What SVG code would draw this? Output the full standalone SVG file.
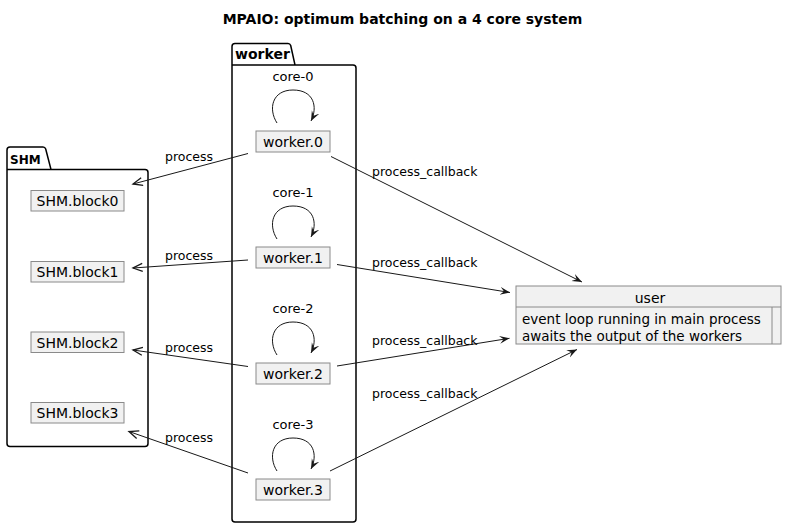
<svg xmlns="http://www.w3.org/2000/svg" width="791" height="529" viewBox="0 0 791 529">
<style>
text{font-family:"DejaVu Sans","Verdana",sans-serif;fill:#000}
.title{font-size:14px;font-weight:bold}
.pkg{fill:none;stroke:#000;stroke-width:1.5}
.pkgt{font-size:14px;font-weight:bold}
.box{fill:#F1F1F1;stroke:#8A8A8A;stroke-width:1}
.bt{font-size:14px;text-anchor:middle}
.core{font-size:13px;text-anchor:middle}
.lbl{font-size:12.5px}
.edge{fill:none;stroke:#181818;stroke-width:1}
.ut{font-size:13.5px}
</style>
<defs>
<marker id="fa" markerUnits="userSpaceOnUse" markerWidth="12" markerHeight="10" refX="10" refY="4" orient="auto">
<path d="M0,0 L10,4 L0,8 L4,4 Z" fill="#181818"/>
</marker>
<marker id="oa" markerUnits="userSpaceOnUse" markerWidth="12" markerHeight="10" refX="10" refY="4.5" orient="auto">
<path d="M0.5,0.5 L10,4.5 L0.5,8.5" fill="none" stroke="#181818" stroke-width="1.3"/>
</marker>
</defs>
<text class="title" x="402.5" y="24" text-anchor="middle">MPAIO: optimum batching on a 4 core system</text>

<g id="pkg-worker">
<path class="pkg" d="M235,43.5 L288,43.5 Q290,43.5 290.7,45.5 L295,65 L353,65 Q356,65 356,68 L356,519 Q356,522 353,522 L235,522 Q232,522 232,519 L232,46.5 Q232,43.5 235,43.5 Z M232,65 L295,65"/>
<text class="pkgt" x="235" y="59">worker</text>
</g>
<g id="pkg-SHM">
<path class="pkg" d="M10,147 L43,147 Q45,147 45.7,149 L51,169.5 L145,169.5 Q148,169.5 148,172.5 L148,443.5 Q148,446.5 145,446.5 L10,446.5 Q7,446.5 7,443.5 L7,150 Q7,147 10,147 Z M7,169.5 L51,169.5"/>
<text class="pkgt" x="10" y="164" style="font-size:12px">SHM</text>
</g>

<g id="SHM.block0"><rect class="box" x="31" y="190.5" width="93" height="20.5"/><text class="bt" x="77.5" y="206">SHM.block0</text></g>
<g id="SHM.block1"><rect class="box" x="31" y="261.5" width="93" height="20.5"/><text class="bt" x="77.5" y="277">SHM.block1</text></g>
<g id="SHM.block2"><rect class="box" x="31" y="332" width="93" height="20.5"/><text class="bt" x="77.5" y="347.5">SHM.block2</text></g>
<g id="SHM.block3"><rect class="box" x="31" y="402.5" width="93" height="20.5"/><text class="bt" x="77.5" y="418">SHM.block3</text></g>

<g id="worker.0"><rect class="box" x="256" y="131" width="74" height="21"/><text class="bt" x="293" y="147">worker.0</text></g>
<g id="worker.1"><rect class="box" x="256" y="247" width="74" height="21"/><text class="bt" x="293" y="263">worker.1</text></g>
<g id="worker.2"><rect class="box" x="256" y="363" width="74" height="21"/><text class="bt" x="293" y="379">worker.2</text></g>
<g id="worker.3"><rect class="box" x="256" y="479" width="74" height="21"/><text class="bt" x="293" y="495">worker.3</text></g>

<g id="user">
<rect class="box" x="516" y="286" width="265" height="58"/>
<line x1="516" y1="307" x2="781" y2="307" stroke="#8A8A8A"/>
<line x1="772" y1="307" x2="772" y2="344" stroke="#8A8A8A"/>
<text class="bt" x="650" y="303">user</text>
<text class="ut" x="522" y="324">event loop running in main process</text>
<text class="ut" x="522" y="341">awaits the output of the workers</text>
</g>

<g id="connectors">
<path class="edge" marker-end="url(#fa)" d="M277,123 C268,109 272,90 293,90 C314,90 318,107 311,121"/>
<path class="edge" marker-end="url(#fa)" d="M277,239 C268,225 272,206 293,206 C314,206 318,223 311,237"/>
<path class="edge" marker-end="url(#fa)" d="M277,355 C268,341 272,322 293,322 C314,322 318,339 311,353"/>
<path class="edge" marker-end="url(#fa)" d="M277,471 C268,457 272,438 293,438 C314,438 318,455 311,469"/>
<text class="core" x="293" y="81">core-0</text>
<text class="core" x="293" y="197">core-1</text>
<text class="core" x="293" y="313">core-2</text>
<text class="core" x="293" y="429">core-3</text>

<path class="edge" marker-end="url(#oa)" d="M248,153.5 L133,184"/>
<path class="edge" marker-end="url(#oa)" d="M248,260 L133,268"/>
<path class="edge" marker-end="url(#oa)" d="M248,366.5 L133,350"/>
<path class="edge" marker-end="url(#oa)" d="M248,473 L129,431.5"/>
<text class="lbl" x="165" y="161">process</text>
<text class="lbl" x="165" y="260">process</text>
<text class="lbl" x="165" y="352">process</text>
<text class="lbl" x="165" y="442">process</text>

<path class="edge" marker-end="url(#fa)" d="M331,156.5 L582,282"/>
<path class="edge" marker-end="url(#fa)" d="M337,264.5 L510,292.5"/>
<path class="edge" marker-end="url(#fa)" d="M337,366 L509.5,338.3"/>
<path class="edge" marker-end="url(#fa)" d="M330,471 L577,349.5"/>
<text class="lbl" x="372" y="176">process_callback</text>
<text class="lbl" x="372" y="267">process_callback</text>
<text class="lbl" x="372" y="345">process_callback</text>
<text class="lbl" x="372" y="398">process_callback</text>
</g>
</svg>
